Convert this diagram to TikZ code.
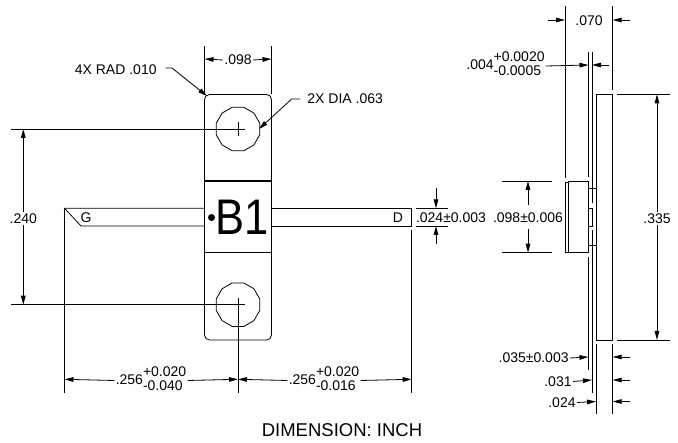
\documentclass[tikz,border=0pt]{standalone}
\usepackage{fontspec}
\setmainfont{Liberation Sans}
\usetikzlibrary{arrows.meta,shapes.geometric}
\newcommand{\tolstack}[2]{\begin{tabular}{@{}l@{}}#1\\#2\end{tabular}}
\tikzset{
  part details/.style={
    x=1pt,
    y=-1pt,
    line width=0.8pt,
    every node/.style={
      inner sep=1pt,
      font=\fontsize{14}{13.5}\selectfont
    },
  },
  dimline/.style={
    -{Stealth[length=9pt,width=4.6pt,inset=0pt]}
  },
  extline/.style={
    line width=0.7pt
  },
  heavy/.style={
    line width=1.3pt
  },
  hole/.style={
    draw,
    regular polygon,
    regular polygon sides=12,
    minimum size=45pt,
    inner sep=0pt
  },
}
\begin{document}
\begin{tikzpicture}[part details]
\useasboundingbox (0,0) rectangle (678,443);
% front view
\draw[rounded corners=5pt] (204.5,181) -- (204.5,94.5) -- (271.5,94.5) -- (271.5,181);
\draw[rounded corners=5pt] (204.5,252.7) -- (204.5,340) -- (271.5,340) -- (271.5,252.7);
\draw[heavy] (204.5,181) rectangle (271.5,252.7);
\draw (204.5,208.3) -- (64.5,208.3) -- (81,226) -- (204.5,226);
\draw (271.5,208.3) -- (411.7,208.3) -- (411.7,226) -- (271.5,226);
\node[hole] (holetop) at (238,129) {};
\node[hole] (holebot) at (238,304.7) {};
\draw (238,122) -- (238,136);
\node (markB) at (242.5,217.5) {\fontsize{50}{50}\selectfont\scalebox{0.87}[1]{B1}};
\fill (211.5,217.5) circle[radius=3.5];
\node (leadG) at (86,218) {G};
\node (leadD) at (398,218) {D};
% center lines and extension lines
\draw[extline] (11,129) -- (244.7,129);
\draw[extline] (11,304.7) -- (244.7,304.7);
\draw[extline] (204.5,46) -- (204.5,94);
\draw[extline] (271.5,46) -- (271.5,94);
\draw[extline] (64.5,208.3) -- (64.5,392.7);
\draw[extline] (238,298) -- (238,392.7);
\draw[extline] (411.7,230) -- (411.7,392.7);
\draw[extline] (416,208.3) -- (448,208.3);
\draw[extline] (416,226) -- (448,226);
% front view dimensions
\node (dimtop) at (238,60) {.098};
\draw[dimline] (dimtop.west) -- (204.5,59);
\draw[dimline] (dimtop.east) -- (271.5,59);
\node[anchor=east] (radlabel) at (158,69.5) {4X RAD .010};
\draw[dimline] (165.5,68) -- (172,68) -- (207,96);
\node[anchor=west] (dialabel) at (306,99) {2X DIA .063};
\draw[dimline] (300,99) -- (291.7,99) -- (259,129);
\node (dimheight) at (23.3,218.5) {.240};
\draw[dimline] (dimheight.north) -- (23.3,129);
\draw[dimline] (dimheight.south) -- (23.3,304.7);
\node (dimleft) at (151,380.5) {.256\tolstack{+0.020}{-0.040}};
\draw[dimline] (dimleft.west) -- (64.5,379.3);
\draw[dimline] (dimleft.east) -- (238,379.3);
\node (dimright) at (324,380.5) {.256\tolstack{+0.020}{-0.016}};
\draw[dimline] (dimright.west) -- (238,379.3);
\draw[dimline] (dimright.east) -- (411.7,379.3);
\node (dimlead) at (451,217.5) {.024±0.003};
\draw[dimline] (436,188) -- (436,208.3);
\draw[dimline] (436,244) -- (436,226);
% side view
\draw (596,94.3) rectangle (612.7,340);
\draw (568.5,181) rectangle (588.5,252.7);
\draw (568.5,182) -- (565,182) -- (565,252) -- (568.5,252);
\draw (588.5,188) -- (596,188);
\draw (588.5,245.5) -- (596,245.5);
\draw (588.5,208.3) -- (592,208.3) -- (592,226) -- (588.5,226);
\draw (592,188) -- (592,203);
\draw (592,230) -- (592,245.5);
\draw[extline] (565,6) -- (565,178);
\draw[extline] (612.7,6) -- (612.7,90);
\draw[extline] (588.5,52) -- (588.5,177);
\draw[extline] (592,52) -- (592,188);
\draw[extline] (588.5,257) -- (588.5,370);
\draw[extline] (592,245.5) -- (592,393);
\draw[extline] (596,344.5) -- (596,414);
\draw[extline] (612.7,344.5) -- (612.7,414);
\draw[extline] (617,94.3) -- (670,94.3);
\draw[extline] (617,340) -- (670,340);
\draw[extline] (501.7,181) -- (552,181);
\draw[extline] (501.7,252.7) -- (552,252.7);
% side view dimensions
\node (dimwidth) at (589,20.5) {.070};
\draw[dimline] (548,20) -- (565,20);
\draw[dimline] (630,20) -- (612.7,20);
\node[anchor=east] (dimlid) at (546,66) {.004\tolstack{+0.0020}{-0.0005}};
\draw[dimline] (dimlid.east) -- (588.5,65);
\draw[dimline] (609,65) -- (592,65);
\node (dimboard) at (657,218.5) {.335};
\draw[dimline] (dimboard.north) -- (657,94.3);
\draw[dimline] (dimboard.south) -- (657,340);
\node (dimbody) at (528,217.5) {.098±0.006};
\draw[dimline] (528,205) -- (528,181);
\draw[dimline] (528,229) -- (528,252.7);
\node[anchor=east] (dimA) at (570,358) {.035±0.003};
\node[anchor=east] (dimB) at (573,381.5) {.031};
\node[anchor=east] (dimC) at (577,402.5) {.024};
\draw[dimline] (dimA.east) -- (588.5,357);
\draw[dimline] (dimB.east) -- (592,380);
\draw[dimline] (dimC.east) -- (596,401.5);
\foreach \ypos in {357,380,401.5} {
  \draw[dimline] (630,\ypos) -- (612.7,\ypos);
}
\node (unitnote) at (342,430.5) {\fontsize{18.5}{18.5}\selectfont DIMENSION: INCH};
\end{tikzpicture}
\end{document}
